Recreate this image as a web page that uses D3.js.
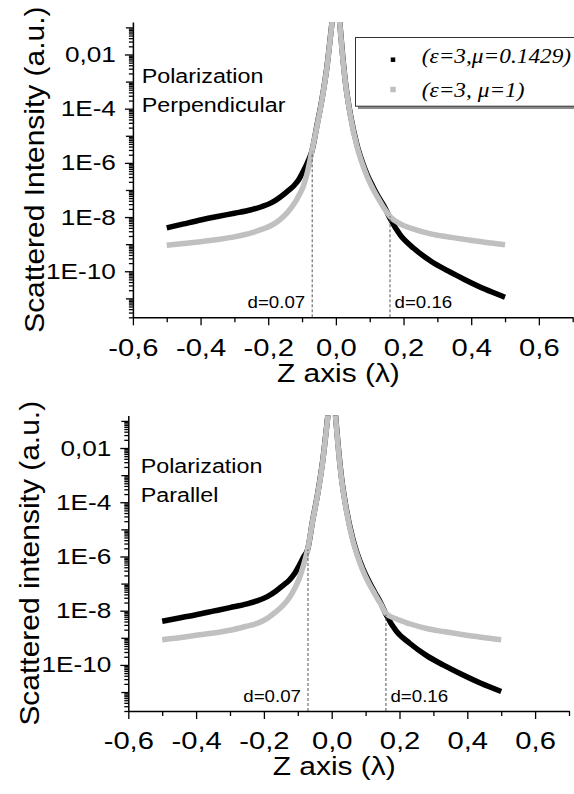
<!DOCTYPE html>
<html>
<head>
<meta charset="utf-8">
<script src="https://cdn.jsdelivr.net/npm/d3@7"></script>
<style>
  body { margin: 0; background: #fff; }
  svg { display: block; }
</style>
</head>
<body>
<div id="chart"></div>
<script>
const zGrid = [-0.5, -0.45, -0.4, -0.35, -0.3, -0.25, -0.22, -0.19, -0.165, -0.145,
  -0.125, -0.11, -0.096, -0.083, -0.071, -0.056, -0.041, -0.026, -0.017, -0.011,
  -0.006, 0.006, 0.011, 0.018, 0.028, 0.043, 0.062, 0.075, 0.092, 0.11,
  0.127, 0.145, 0.16, 0.19, 0.23, 0.28, 0.33, 0.38, 0.44, 0.5];

// perpendicular polarization
const blackPerp = [4.0e-9, 5.6e-9, 7.8e-9, 1.05e-8, 1.38e-8, 1.86e-8, 2.4e-8, 3.4e-8, 5.4e-8, 8.5e-8,
  1.4e-7, 2.4e-7, 5.0e-7, 1.1e-6, 2.7e-6, 2.4e-5, 2.3e-4, 3.9e-3, 3.7e-2, 1.8e-1,
  1, 1, 1.8e-1, 1.7e-2, 1.0e-3, 6.0e-5, 4.8e-6, 1.4e-6, 3.8e-7, 1.3e-7,
  5.2e-8, 2.2e-8, 9.0e-9, 2.2e-9, 7.1e-10, 2.4e-10, 1.05e-10, 5.0e-11, 2.2e-11, 1.1e-11];
const grayPerp = [9.1e-10, 1.05e-9, 1.23e-9, 1.48e-9, 1.86e-9, 2.6e-9, 3.5e-9, 5.0e-9, 8.1e-9, 1.4e-8,
  2.9e-8, 6.0e-8, 1.4e-7, 5.2e-7, 2.7e-6, 2.2e-5, 2.2e-4, 3.7e-3, 3.5e-2, 1.7e-1,
  1, 1, 1.7e-1, 1.5e-2, 9.3e-4, 5.4e-5, 4.2e-6, 1.2e-6, 3.2e-7, 1.07e-7,
  4.5e-8, 1.9e-8, 1.05e-8, 5.6e-9, 3.6e-9, 2.4e-9, 1.86e-9, 1.5e-9, 1.17e-9, 9.5e-10];

// parallel polarization
const blackPara = [4.1e-9, 5.4e-9, 7.1e-9, 9.6e-9, 1.3e-8, 1.78e-8, 2.3e-8, 3.3e-8, 5.2e-8, 8.3e-8,
  1.35e-7, 2.3e-7, 4.6e-7, 9.5e-7, 1.8e-6, 2.2e-5, 2.2e-4, 3.8e-3, 3.6e-2, 1.8e-1,
  1, 1, 1.8e-1, 1.7e-2, 1.0e-3, 5.8e-5, 4.6e-6, 1.3e-6, 3.6e-7, 1.2e-7,
  4.8e-8, 1.9e-8, 7.4e-9, 1.8e-9, 6.3e-10, 2.2e-10, 9.8e-11, 4.7e-11, 2.1e-11, 1.05e-11];
const grayPara = [8.5e-10, 1.0e-9, 1.25e-9, 1.5e-9, 1.9e-9, 2.7e-9, 3.4e-9, 5.2e-9, 9.0e-9, 1.5e-8,
  3.0e-8, 6.3e-8, 1.5e-7, 4.8e-7, 1.8e-6, 2.1e-5, 2.1e-4, 3.6e-3, 3.4e-2, 1.7e-1,
  1, 1, 1.7e-1, 1.5e-2, 9.0e-4, 5.2e-5, 4.0e-6, 1.15e-6, 3.0e-7, 1.0e-7,
  4.2e-8, 1.7e-8, 8.0e-9, 5.0e-9, 3.3e-9, 2.2e-9, 1.7e-9, 1.35e-9, 1.05e-9, 8.5e-10];

// dashed markers: position and the intensity where the dashed line stops
const markZ = [-0.07, 0.16];
const markLabels = ['d=0.07', 'd=0.16'];
const markTopPerp = [2.6e-6, 1.07e-8];
const markTopPara = [1.8e-6, 7.1e-9];

// axes
const xMajor = [-0.6, -0.4, -0.2, 0, 0.2, 0.4, 0.6];
const xMinor = [-0.5, -0.3, -0.1, 0.1, 0.3, 0.5, 0.7];
const xLabels = ['-0,6', '-0,4', '-0,2', '0,0', '0,2', '0,4', '0,6'];
const yLabelled = [1e-2, 1e-4, 1e-6, 1e-8, 1e-10];
const yLabels = ['0,01', '1E-4', '1E-6', '1E-8', '1E-10'];
const yDecades = [1e-1, 1e-3, 1e-5, 1e-7, 1e-9, 1e-11];
const yDomain = [2e-12, 0.158];

const seriesNames = ['(\u03B5=3,\u03BC=0.1429)', '(\u03B5=3, \u03BC=1)'];

const sans = '"Liberation Sans", Arial, sans-serif';
const serif = '"Liberation Serif", "Times New Roman", serif';

const svg = d3.select('#chart').append('svg')
    .attr('width', 574)
    .attr('height', 794);

function addText(g, str, x, y, o) {
    let tr = `translate(${x},${y})`;
    if (o.rotate) tr += ` rotate(${o.rotate})`;
    tr += ` scale(${o.sx || 1},1)`;
    return g.append('text')
        .attr('transform', tr)
        .attr('text-anchor', o.anchor || 'start')
        .style('font-family', o.font || sans)
        .style('font-size', o.size + 'px')
        .style('font-style', o.italic ? 'italic' : null)
        .attr('fill', '#000')
        .text(str);
}

const panels = [
    { left: 132.9, right: 572.7, top: 22, bottom: 317.3,
      black: blackPerp, gray: grayPerp, markTop: markTopPerp,
      yTitle: 'Scattered Intensity (a.u.)', yTitleX: 43.5,
      pol: ['Polarization', 'Perpendicular'], polX: 141.7, polY: [83.3, 112.3],
      legend: true },
    { left: 128.3, right: 569, top: 415.5, bottom: 711,
      black: blackPara, gray: grayPara, markTop: markTopPara,
      yTitle: 'Scattered intensity (a.u.)', yTitleX: 38.9,
      pol: ['Polarization', 'Parallel'], polX: 140.7, polY: [473.3, 501.7],
      legend: false }
];

panels.forEach((p, i) => {
    const g = svg.append('g');
    const x = d3.scaleLinear().domain([-0.6, 0.7]).range([p.left, p.right]);
    const y = d3.scaleLog().domain(yDomain).range([p.bottom, p.top]);

    // minor log ticks (2..9 per decade)
    const yMinor = [];
    for (let e = -12; e <= -1; e++) {
        for (let k = 2; k <= 9; k++) {
            const v = k * Math.pow(10, e);
            if (v >= yDomain[0] && v <= yDomain[1]) yMinor.push(v);
        }
    }

    // curves
    const clipId = 'clip' + i;
    g.append('clipPath').attr('id', clipId)
      .append('rect')
        .attr('x', p.left - 10).attr('y', p.top)
        .attr('width', p.right - p.left + 20).attr('height', p.bottom - p.top);

    const line = d3.line()
        .x(d => x(d[0]))
        .y(d => y(d[1]))
        .curve(d3.curveMonotoneX);

    const plot = g.append('g').attr('clip-path', `url(#${clipId})`);
    plot.append('path')
        .datum(zGrid.map((z, j) => [z, p.black[j]]))
        .attr('d', line)
        .attr('fill', 'none')
        .attr('stroke', '#000')
        .attr('stroke-width', 5.5);
    plot.append('path')
        .datum(zGrid.map((z, j) => [z, p.gray[j]]))
        .attr('d', line)
        .attr('fill', 'none')
        .attr('stroke', '#c0c0c0')
        .attr('stroke-width', 5.5);

    // dashed markers
    g.selectAll('.mark')
        .data(markZ)
      .enter().append('line')
        .attr('x1', d => x(d)).attr('x2', d => x(d))
        .attr('y1', p.bottom)
        .attr('y2', (d, j) => y(p.markTop[j]))
        .attr('stroke', '#555')
        .attr('stroke-width', 1)
        .attr('stroke-dasharray', '3,2');
    addText(g, markLabels[0], x(markZ[0]) - 7, p.bottom - 9.5, { size: 17, sx: 1.1, anchor: 'end' });
    addText(g, markLabels[1], x(markZ[1]) + 4.5, p.bottom - 9.5, { size: 17, sx: 1.1 });

    // x axis (minor and major ticks in their own groups)
    const gxMinor = g.append('g').attr('transform', `translate(0,${p.bottom})`)
        .call(d3.axisBottom(x).tickValues(xMinor).tickSize(5).tickSizeOuter(0).tickFormat(''));
    const gx = g.append('g').attr('transform', `translate(0,${p.bottom})`)
        .call(d3.axisBottom(x).tickValues(xMajor).tickSize(8).tickSizeOuter(0).tickPadding(14)
            .tickFormat((d, j) => xLabels[j]));
    gxMinor.select('.domain').remove();
    gx.selectAll('.domain').attr('stroke-width', 1.5);
    [gx, gxMinor].forEach(s => s.selectAll('line').attr('stroke-width', 1.3));
    gx.selectAll('text')
        .style('font-family', sans)
        .style('font-size', '23px')
        .attr('transform', 'scale(1.27,1)');

    // y axis
    const gyMinor = g.append('g').attr('transform', `translate(${p.left},0)`)
        .call(d3.axisLeft(y).tickValues(yMinor).tickSize(4).tickSizeOuter(0).tickFormat(''));
    const gyDec = g.append('g').attr('transform', `translate(${p.left},0)`)
        .call(d3.axisLeft(y).tickValues(yDecades).tickSize(7).tickSizeOuter(0).tickFormat(''));
    const gy = g.append('g').attr('transform', `translate(${p.left},0)`)
        .call(d3.axisLeft(y).tickValues(yLabelled).tickSize(8).tickSizeOuter(0)
            .tickFormat((d, j) => yLabels[j]));
    gyMinor.select('.domain').remove();
    gyDec.select('.domain').remove();
    gy.selectAll('.domain').attr('stroke-width', 1.5);
    [gy, gyDec, gyMinor].forEach(s => s.selectAll('line').attr('stroke-width', 1.3));
    gy.selectAll('text')
        .style('font-family', sans)
        .style('font-size', '22px')
        .attr('x', -17 / 1.19)
        .attr('transform', 'scale(1.19,1)');

    // titles
    addText(g, 'Z axis (\u03BB)', x(0) + 2.5, p.bottom + 64.4, { size: 26, sx: 1.15, anchor: 'middle' });
    addText(g, p.yTitle, p.yTitleX, (p.top + p.bottom) / 2, { size: 27, sx: 1.11, anchor: 'middle', rotate: -90 });
    addText(g, p.pol[0], p.polX, p.polY[0], { size: 21, sx: 1.11 });
    addText(g, p.pol[1], p.polX, p.polY[1], { size: 21, sx: 1.11 });

    // legend
    if (p.legend) {
        const lg = g.append('g');
        lg.append('rect')
            .attr('x', 358).attr('y', 40.3).attr('width', 240).attr('height', 68.7)
            .attr('fill', '#8a8a8a');
        lg.append('rect')
            .attr('x', 355.5).attr('y', 37.5).attr('width', 240).attr('height', 68.7)
            .attr('fill', '#fff').attr('stroke', '#333').attr('stroke-width', 1);
        const colors = ['#000', '#c0c0c0'];
        const sizes = [4.5, 5.5];
        const markY = [59.7, 89.5];
        const textY = [63.3, 97];
        seriesNames.forEach((name, j) => {
            lg.append('rect')
                .attr('x', 393 - sizes[j] / 2).attr('y', markY[j] - sizes[j] / 2)
                .attr('width', sizes[j]).attr('height', sizes[j])
                .attr('fill', colors[j]);
            addText(lg, name, 421.7, textY[j], { size: 22, sx: 1.06, font: serif, italic: true });
        });
    }
});
</script>
</body>
</html>
